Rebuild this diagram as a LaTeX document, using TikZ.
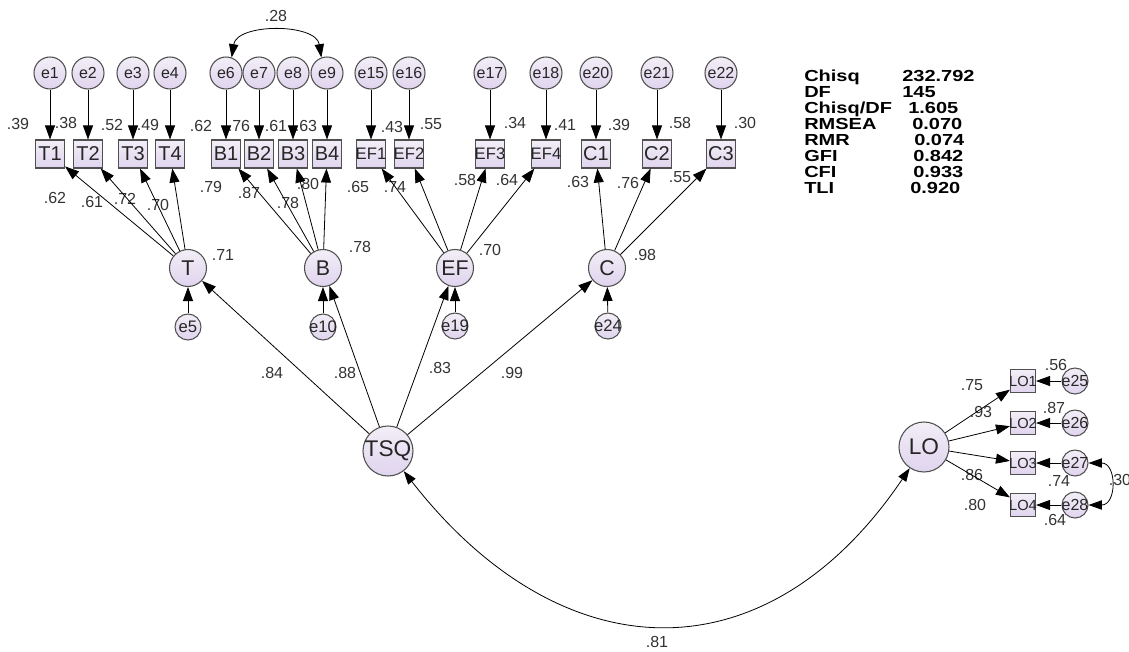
\documentclass[tikz,border=0pt]{standalone}
\usepackage{fontspec}
\setmainfont{Liberation Sans}
\newfontfamily\statf[FakeStretch=1.25]{Liberation Sans}
\usetikzlibrary{arrows.meta}
\definecolor{lavT}{RGB}{242,238,247}
\definecolor{lavB}{RGB}{224,212,238}
\definecolor{edgec}{RGB}{80,80,80}
\newcommand{\zbx}[1]{\makebox[0pt][c]{#1}}
\tikzset{
  basen/.style={draw=edgec, line width=0.8pt, top color=lavT, bottom color=lavB, inner sep=0pt, text=black!85},
  errc/.style={basen, circle, minimum size=24pt, font=\fontsize{12}{12}\selectfont},
  serr/.style={basen, circle, minimum size=19.5pt, font=\fontsize{12.5}{12.5}\selectfont},
  lat/.style={basen, circle, minimum size=27.75pt, font=\fontsize{16}{16}\selectfont},
  big/.style={basen, circle, minimum size=37.5pt, font=\fontsize{17}{17}\selectfont},
  ind/.style={basen, rectangle, minimum width=21.75pt, minimum height=21pt, font=\fontsize{15}{15}\selectfont},
  indef/.style={ind, font=\fontsize{12.5}{12.5}\selectfont},
  indlo/.style={basen, rectangle, minimum width=18.75pt, minimum height=17.25pt, font=\fontsize{11}{11}\selectfont},
  lab/.style={inner sep=0pt, font=\fontsize{12}{12}\selectfont, text=black!80},
  stat/.style={inner sep=0pt, anchor=base west, font=\statf\fontsize{12}{12}\selectfont\bfseries},
  arr/.style={line width=0.6pt, -{Triangle[length=10.5pt,width=7.5pt]}},
  arrb/.style={line width=0.6pt, {Triangle[length=10pt,width=7pt]}-{Triangle[length=10pt,width=7pt]}},
}
\begin{document}
\begin{tikzpicture}[x=0.75pt,y=-0.75pt]
\useasboundingbox (0,0) rectangle (1129,651);
% labels (drawn first, arrows go over them)
\foreach \x/\y/\t in {18/124/.39, 66/123/.38, 112/125/.52, 148/125/.49, 201/126/.62, 239/126/.76, 276/126/.61, 306/126/.63, 392/127/.43, 431/124/.55, 515/123/.34, 565/125/.41, 619/125/.39, 680/123/.58, 745/123/.30,
  55/198/.62, 92/202/.61, 125/199/.72, 158/205/.70, 211/187/.79, 249/193/.87, 288/203/.78, 308/184/.80, 358/187/.65, 395/187/.74, 465/180/.58, 507/180/.64, 578/182/.63, 628/183/.76, 680/177/.55,
  223/255/.71, 360/247/.78, 490/250/.70, 645/255/.98,
  272/373/.84, 345/373/.88, 440/368/.83, 512/373/.99, 657/642/.81, 276/16/.28,
  972/385/.75, 981/412/.93, 972/475/.86, 975/505/.80, 1056/365/.56, 1054/408/.87, 1055/520/.64, 1120/480/.30}
  {\node[lab] (l\x x\y) at (\x,\y) {\t};}
% fit statistics
\foreach \y/\a/\xv/\v [count=\i] in {81/Chisq/902/232.792, 97/DF/902/145, 113/Chisq\slash DF/908/1.605, 129/RMSEA/912/0.070, 145/RMR/914/0.074, 161/GFI/913/0.842, 177/CFI/913/0.933, 193/TLI/910/0.920}
  {\node[stat] (sa\i) at (804,\y) {\a}; \node[stat] (sv\i) at (\xv,\y) {\v};}
% indicators
\foreach \n/\x in {T1/50,T2/88,T3/133,T4/170,B1/226,B2/259,B3/293,B4/327,C1/596,C2/657,C3/721}
  {\node[ind] (\n) at (\x,154) {\zbx{\n}};}
\foreach \n/\x in {EF1/371,EF2/409,EF3/490,EF4/546}
  {\node[indef] (\n) at (\x,154) {\zbx{\n}};}
% errors of indicators
\foreach \n/\x/\b in {e1/50/T1,e2/88/T2,e3/133/T3,e4/170/T4,e6/226/B1,e7/259/B2,e8/293/B3,e9/327/B4,e15/371/EF1,e16/409/EF2,e17/490/EF3,e18/546/EF4,e20/596/C1,e21/657/C2,e22/721/C3}
  {\node[errc] (\n) at (\x,73) {\zbx{\n}}; \draw[arr] (\n) -- (\b);}
% latent factors
\node[lat] (T) at (188,268) {\zbx{T}};
\node[lat] (B) at (323,268) {\zbx{B}};
\node[lat] (EF) at (455,268) {\zbx{EF}};
\node[lat] (C) at (607,268) {\zbx{C}};
\node[serr] (e5) at (188,327) {\zbx{e5}};
\node[serr] (e10) at (323,327) {\zbx{e10}};
\node[serr] (e19) at (455,326) {\zbx{e19}};
\node[serr] (e24) at (608,326) {\zbx{e24}};
\node[big] (TSQ) at (388,451) {\zbx{TSQ}};
\node[big] (LO) at (924,447) {\zbx{LO}};
% LO indicators
\foreach \n/\y/\e in {LO1/381/e25, LO2/423/e26, LO3/463/e27, LO4/505/e28}
  {\node[indlo] (\n) at (1023,\y) {\zbx{\n}};
   \node[serr, font=\fontsize{12}{12}\selectfont] (\e) at (1075,\y) {\zbx{\e}};
   \draw[arr] (LO) -- (\n);
   \draw[arr] (\e) -- (\n);}
\node[lab] (l74) at (1059,481) {.74};
% loadings
\foreach \i in {T1,T2,T3,T4} {\draw[arr] (T) -- (\i);}
\foreach \i in {B1,B2,B3,B4} {\draw[arr] (B) -- (\i);}
\foreach \i in {EF1,EF2,EF3,EF4} {\draw[arr] (EF) -- (\i);}
\foreach \i in {C1,C2,C3} {\draw[arr] (C) -- (\i);}
\draw[arr] (e5) -- (T);
\draw[arr] (e10) -- (B);
\draw[arr] (e19) -- (EF);
\draw[arr] (e24) -- (C);
\foreach \i in {T,B,EF,C} {\draw[arr] (TSQ) -- (\i);}
% covariances
\draw[arrb] (e6.70) .. controls (237,23) and (316,23) .. (e9.110);
\draw[arrb] (e27.east) .. controls (1117,463) and (1117,505) .. (e28.east);
\draw[arrb] (TSQ.-52) .. controls (561,673) and (766,681) .. (LO.-124);
\end{tikzpicture}
\end{document}
